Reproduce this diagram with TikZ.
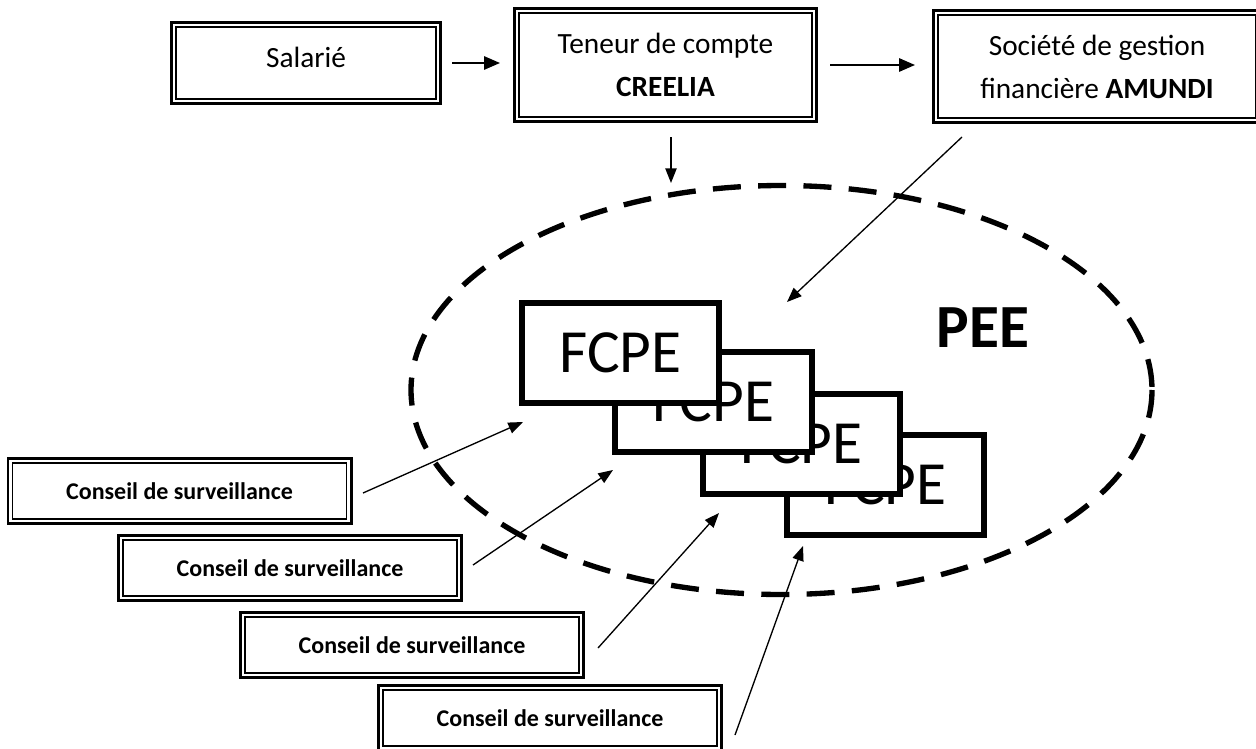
\documentclass[tikz,border=0pt]{standalone}
\usepackage{fontspec}
\setmainfont{Carlito}
\usetikzlibrary{arrows.meta}
\newcommand{\innerframe}[1]{\draw[innerline] ([shift={(4.5pt,-4.5pt)}]#1.north west) rectangle ([shift={(-4.5pt,4.5pt)}]#1.south east);}
\begin{document}
\begin{tikzpicture}[x=0.75pt,y=-0.75pt,
  dbox/.style={draw, line width=1.9pt, fill=white, inner sep=0pt, align=center},
  topfont/.style={font=\fontsize{22}{32.25}\selectfont},
  cbox/.style={dbox, minimum width=257.6pt, minimum height=49.1pt, font=\fontsize{18}{22}\selectfont\bfseries},
  fbox/.style={draw, line width=4.5pt, fill=white, inner sep=0pt, minimum width=147.75pt, minimum height=75pt, font=\fontsize{46}{50}\selectfont},
  innerline/.style={line width=1.1pt},
  arr/.style={-{Triangle[length=11pt,width=8.5pt]}, line width=1pt},
  harr/.style={-{Triangle[length=12pt,width=10pt]}, line width=1.5pt}
]
\useasboundingbox (0,0) rectangle (1256,749);
\clip (0,0) rectangle (1256,749);

% top boxes
\node[dbox, minimum width=202.1pt, minimum height=61.1pt,
  label={[topfont, yshift=4.5pt]center:Salarié}] (sal) at (306,63) {};
\innerframe{sal}
\node[dbox, topfont, minimum width=226.85pt, minimum height=85.1pt] (ten) at (665.5,65) {Teneur de compte\\\textbf{CREELIA}};
\innerframe{ten}
\node[dbox, topfont, minimum width=245.6pt, minimum height=84.35pt] (soc) at (1097,66.5) {Société de gestion\\financière \textbf{AMUNDI}};
\innerframe{soc}

% PEE ellipse
\draw[line width=4pt, dash pattern=on 21pt off 13pt] (781.5,390) ellipse [x radius=370.5, y radius=204.5];
\node[font=\fontsize{46}{50}\selectfont\bfseries] (pee) at (983,327.5) {PEE};

% FCPE boxes (first one on top)
\node[fbox] (f4) at (885.5,484.5) {FCPE};
\node[fbox] (f3) at (801.5,444) {FCPE};
\node[fbox] (f2) at (713,402) {FCPE};
\node[fbox] (f1) at (620.5,353) {FCPE};

% Conseil boxes
\node[cbox] (c1) at (179.5,491) {Conseil de surveillance};
\innerframe{c1}
\node[cbox] (c2) at (290,568) {Conseil de surveillance};
\innerframe{c2}
\node[cbox] (c3) at (412,645) {Conseil de surveillance};
\innerframe{c3}
\node[cbox] (c4) at (550,718) {Conseil de surveillance};
\innerframe{c4}

% arrow end points
\coordinate (a1s) at (452,63);  \coordinate (a1e) at (500,63);
\coordinate (a2s) at (830,65);  \coordinate (a2e) at (915,65);
\coordinate (a3s) at (671,137); \coordinate (a3e) at (671,183);
\coordinate (a4s) at (962,137); \coordinate (a4e) at (787,302);
\coordinate (b1s) at (363,493); \coordinate (b1e) at (523,422);
\coordinate (b2s) at (473,565); \coordinate (b2e) at (613,470);
\coordinate (b3s) at (598,648); \coordinate (b3e) at (719,513);
\coordinate (b4s) at (735,735); \coordinate (b4e) at (803,546);

\draw[harr] (a1s) -- (a1e);
\draw[harr] (a2s) -- (a2e);
\draw[arr] (a3s) -- (a3e);
\draw[arr] (a4s) -- (a4e);
\draw[arr] (b1s) -- (b1e);
\draw[arr] (b2s) -- (b2e);
\draw[arr] (b3s) -- (b3e);
\draw[arr] (b4s) -- (b4e);
\end{tikzpicture}
\end{document}
